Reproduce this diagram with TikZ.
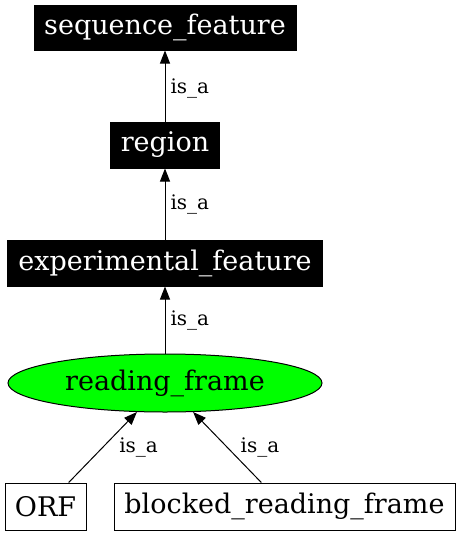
\documentclass[tikz,border=0pt]{standalone}
\usepackage{fontspec}
\setmainfont{DejaVu Serif}
\usetikzlibrary{
    arrows.meta,
    shapes.geometric
}

\begin{document}
\begin{tikzpicture}[x=1pt, y=-1pt,
    term/.style={draw, rectangle, inner sep=0pt, line width=1pt,
        font=\fontsize{27}{32}\selectfont},
    darkterm/.style={term, fill=black, text=white},
    focus/.style={draw, ellipse, inner sep=0pt, line width=1pt, fill=green,
        font=\fontsize{27}{32}\selectfont},
    isa/.style={-{Triangle[length=13pt, width=10pt]}, line width=1pt},
    isalabel/.style={font=\fontsize{20}{24}\selectfont, inner sep=0pt}
  ]
  \useasboundingbox (0,0) rectangle (460,536);

  \node[darkterm, minimum width=262pt, minimum height=45pt] (seqfeat) at (165,27.5) {sequence\_feature};
  \node[darkterm, minimum width=109pt, minimum height=46pt] (region) at (165,145) {region};
  \node[darkterm, minimum width=315pt, minimum height=46pt] (expfeat) at (165,263) {experimental\_feature};
  \node[focus, minimum width=314pt, minimum height=58pt] (readframe) at (165,383) {reading\_frame};
  \node[term, minimum width=81pt, minimum height=47pt] (orf) at (45.5,506.5) {ORF};
  \node[term, minimum width=341pt, minimum height=47pt] (blocked) at (284.5,506.5) {blocked\_reading\_frame};

  \draw[isa] (region) -- node[isalabel, right=5pt, yshift=-2pt] {is\_a} (seqfeat);
  \draw[isa] (expfeat) -- node[isalabel, right=5pt] {is\_a} (region);
  \draw[isa] (readframe) -- node[isalabel, right=5pt] {is\_a} (expfeat);
  %
  \draw[isa] (orf) -- node[isalabel, right=16pt] {is\_a} (readframe);
  \draw[isa] (blocked) -- node[isalabel, right=13pt] {is\_a} (readframe);
\end{tikzpicture}
\end{document}
